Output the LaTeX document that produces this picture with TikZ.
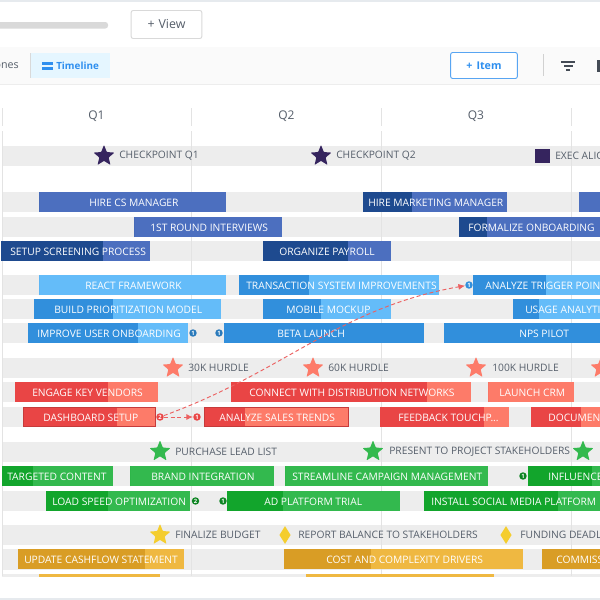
\documentclass[tikz,border=0pt]{standalone}
\usepackage{fontspec}
\setmainfont{Open Sans}
\usetikzlibrary{shapes.geometric,arrows.meta}

\definecolor{bluelt}{HTML}{4C6FBF}
\definecolor{bluedk}{HTML}{1E4A8F}
\definecolor{skylt}{HTML}{64BCF9}
\definecolor{skydk}{HTML}{318FDC}
\definecolor{redlt}{HTML}{FD7B69}
\definecolor{reddk}{HTML}{E94545}
\definecolor{greenlt}{HTML}{33B94E}
\definecolor{greendk}{HTML}{12A52C}
\definecolor{yellowlt}{HTML}{EFB841}
\definecolor{yellowdk}{HTML}{D99D25}
\definecolor{bandgray}{HTML}{EDEDED}
\definecolor{gridgray}{HTML}{E3E3E3}
\definecolor{edgegray}{HTML}{E6EAEE}
\definecolor{labelgray}{HTML}{555E6A}
\definecolor{navystar}{HTML}{35245E}
\definecolor{linkblue}{HTML}{2E8FEF}

\tikzset{
    bartext/.style={anchor=west,inner sep=0pt,text=white,font=\fontsize{7.7}{9}\selectfont},
    mslabel/.style={anchor=west,inner sep=0pt,text=labelgray,font=\fontsize{7.7}{9}\selectfont},
    qlabel/.style={inner sep=0pt,text=labelgray,font=\fontsize{9}{11}\selectfont},
    msstar/.style={star,star points=5,star point ratio=2.25,inner sep=0pt,minimum size=16.5pt,rounded corners=0.5pt},
    msdiamond/.style={diamond,inner sep=0pt,minimum width=8.5pt,minimum height=13.5pt,fill=#1},
    badge/.style={circle,inner sep=0pt,minimum size=5.6pt,fill=#1,text=white,font=\fontsize{4.4}{5}\selectfont\bfseries},
    link/.style={densely dashed,reddk!85!white,line width=0.7pt,-{Latex[length=5pt,width=4.5pt]}}
}

\newcommand{\tdots}{...}
% #1 light part, #2 dark part, #3 name/x0/x1/split/top/text x/text
\newcommand{\tlbars}[3]{
    \foreach \nm/\xa/\xb/\xs/\yt/\xt/\txt in {#3}{
        \fill[#1] (\xa,\yt) rectangle (\xb,\yt+20);
        \fill[#2] (\xa,\yt) rectangle (\xs,\yt+20);
        \node[bartext] (\nm) at (\xt,\yt+10.6) {\txt};
    }
}

\begin{document}
\begin{tikzpicture}[x=0.75pt,y=-0.75pt]
\useasboundingbox (0,0) rectangle (600,600);
\clip (0,0) rectangle (600,600);

% toolbar
\fill[white] (0,0) rectangle (600,600);
\fill[edgegray] (0,0) rectangle (600,2);
\fill[edgegray] (0,598) rectangle (600,600);
\fill[black!2] (0,47) rectangle (600,84);
\draw[black!7,line width=0.5pt] (0,84.5) -- (600,84.5);
\fill[black!15,rounded corners=2pt] (-5,22) rectangle (108,28.5);
\node[draw=black!15,fill=white,line width=0.7pt,rounded corners=1.5pt,minimum width=53pt,minimum height=21pt,inner sep=0pt,text=labelgray,font=\fontsize{9.3}{11}\selectfont] (viewbtn) at (166.5,24.5) {+\hspace{3pt}View};
\node[anchor=east,inner sep=0pt,text=labelgray,font=\fontsize{8}{10}\selectfont] (tabmiles) at (19,65.5) {ones};
\fill[blue!35!cyan!10!white] (30,53) rectangle (110,78);
\fill[black!15] (30,53) rectangle (30.8,78);
\foreach \ya in {62,67}
    \fill[linkblue] (42,\ya) rectangle (53,\ya+2.5);
\node[anchor=west,inner sep=0pt,text=linkblue,font=\fontsize{7.4}{10}\selectfont\bfseries] (tabtime) at (56,65.5) {Timeline};
\node[draw=linkblue!80!white,fill=white,line width=0.7pt,rounded corners=1.5pt,minimum width=50pt,minimum height=19.5pt,inner sep=0pt,text=linkblue,font=\fontsize{8}{10}\selectfont\bfseries] (itembtn) at (484,65.5) {+\hspace{3pt}Item};
\fill[black!18] (543,54) rectangle (544,76);
\fill[labelgray!80!black] (561,61) rectangle (575,63);
\fill[labelgray!80!black] (563.5,65) rectangle (572.5,67);
\fill[labelgray!80!black] (566,69) rectangle (570,71);
\fill[labelgray!80!black] (597,60) rectangle (600,72);

% quarter heads
\foreach \qn/\xq in {Q1/96.5,Q2/286.5,Q3/476}
    \node[qlabel] (\qn) at (\xq,116.5) {\qn};

% grey rows
\foreach \yt/\ht in {146/20,192/20,217/20,241/20,275/20,299/20,323/20,358/20,382/20,407/20,442/20,466/20,491/20,525/20,549/21,574/2.5}
    \fill[bandgray] (2,\yt) rectangle (600,\yt+\ht);
\foreach \xg in {2,191,381,571}{
    \fill[gridgray] (\xg-0.4,108) rectangle (\xg+0.4,126);
    \fill[gridgray] (\xg-0.4,131) rectangle (\xg+0.4,576);
}

% bars
\fill[bluelt] (579,192) rectangle (600,212);
\tlbars{bluelt}{bluedk}{
    hirecs/39/226/39/192/89/HIRE CS MANAGER,
    rounda/134/282/134/217/150/1ST ROUND INTERVIEWS,
    screen/1/150/103/241/10/SETUP SCREENING PROCESS,
    hiremk/363/507/412/192/368/HIRE MARKETING MANAGER,
    formal/459/600/487/217/468/FORMALIZE ONBOARDING,
    payrol/263/391/348/241/279/ORGANIZE PAYROLL}
\tlbars{skylt}{skydk}{
    react/39/226/39/275/85/REACT FRAMEWORK,
    transa/239/439/309/275/246/TRANSACTION SYSTEM IMPROVEMENTS,
    trigger/473/600/546/275/485/ANALYZE TRIGGER POINT,
    prior/34/221/113/299/54/BUILD PRIORITIZATION MODEL,
    mockup/263/391/321/299/286/MOBILE MOCKUP,
    usage/513/600/539/299/525/USAGE ANALYTI,
    improve/28/188/138/323/37/IMPROVE USER ONBOARDING,
    beta/224/424/424/323/277/BETA LAUNCH,
    nps/444/600/600/323/519/NPS PILOT}
\tlbars{redlt}{reddk}{
    vendors/15/158/108/382/32/ENGAGE KEY VENDORS,
    connect/231/471/427/382/249/CONNECT WITH DISTRIBUTION NETWORKS,
    crm/488/574/488/382/499/LAUNCH CRM,
    dash/23/156/117/407/43/DASHBOARD SETUP,
    sales/204/349/245/407/219/ANALYZE SALES TRENDS,
    feed/380/509/484/407/398/FEEDBACK TOUCHP\tdots,
    docum/531/600/581/407/548/DOCUMENT}
\draw[reddk!85!black,line width=0.7pt] (23.3,407.3) rectangle (155.7,426.7);
\draw[reddk!85!black,line width=0.7pt] (204.3,407.3) rectangle (348.7,426.7);
\tlbars{greenlt}{greendk}{
    target/2/113/33/466/7/TARGETED CONTENT,
    brand/130/274/130/466/151/BRAND INTEGRATION,
    stream/285/488/285/466/292/STREAMLINE CAMPAIGN MANAGEMENT,
    influ/528/600/592/466/548/INFLUENCE,
    speed/46/190/108/491/52/LOAD SPEED OPTIMIZATION,
    adtrial/227/400/283/491/264/AD PLATFORM TRIAL,
    social/424/600/558/491/431/INSTALL SOCIAL MEDIA PLATFORM}
\tlbars{yellowlt}{yellowdk}{
    cash/18/184/145/549/24/UPDATE CASHFLOW STATEMENT,
    cost/284/523/371/549/326/COST AND COMPLEXITY DRIVERS,
    commis/542/600/600/549/556/COMMISS}
\foreach \xa/\xb in {39/160,306/494}
    \fill[yellowlt] (\xa,574) rectangle (\xb,576.5);

% milestones
\foreach \nm/\xm/\xl/\txt in {cpa/104/119/CHECKPOINT Q1,cpb/321/336/CHECKPOINT Q2}{
    \node[msstar,fill=navystar] (\nm) at (\xm,156) {};
    \node[mslabel] (\nm l) at (\xl,156) {\txt};
}
\node[fill=navystar,inner sep=0pt,minimum size=11pt] (execm) at (542.5,156) {};
\node[mslabel] (execl) at (555,156) {EXEC ALIG};
\foreach \nm/\xm/\xl/\txt in {hua/173/188/30K HURDLE,hub/313/328/60K HURDLE,huc/476/492/100K HURDLE}{
    \node[msstar,fill=redlt] (\nm) at (\xm,368) {};
    \node[mslabel] (\nm l) at (\xl,368) {\txt};
}
\node[msstar,fill=redlt] (hud) at (601,368) {};
\foreach \nm/\xm/\xl/\txt in {gra/160/175/PURCHASE LEAD LIST,grb/373/389/PRESENT TO PROJECT STAKEHOLDERS}{
    \node[msstar,fill=greenlt] (\nm) at (\xm,451.5) {};
    \node[mslabel] (\nm l) at (\xl,451.5) {\txt};
}
\node[msstar,fill=greenlt] (grc) at (583,451.5) {};
\node[msstar,fill=yellowlt!70!yellow] (fina) at (160,535) {};
\node[mslabel] (final) at (175,535) {FINALIZE BUDGET};
\node[msdiamond=yellowlt!70!yellow] (dia) at (285,535) {};
\node[mslabel] (dial) at (298,535) {REPORT BALANCE TO STAKEHOLDERS};
\node[msdiamond=yellowlt!70!yellow] (dib) at (506,535) {};
\node[mslabel] (dibl) at (520,535) {FUNDING DEADL};

% dependency badges
\foreach \nm/\xb/\yb/\cl/\dg in {bda/193/333/skydk!85!black/1,bdb/219/333/skydk!85!black/1,bdc/469/285/skydk/1,bdd/160/417/reddk/2,bde/197/417/reddk/1,bdf/523/476/greendk!80!black/1,bdg/195.5/501/greendk!80!black/2,bdh/223/501/greendk!80!black/1}
    \node[badge=\cl] (\nm) at (\xb,\yb) {\dg};
\draw[link] (bdd) to[out=20,in=190] (bdc);
\draw[link] (bdd) -- (bde);
\end{tikzpicture}
\end{document}
